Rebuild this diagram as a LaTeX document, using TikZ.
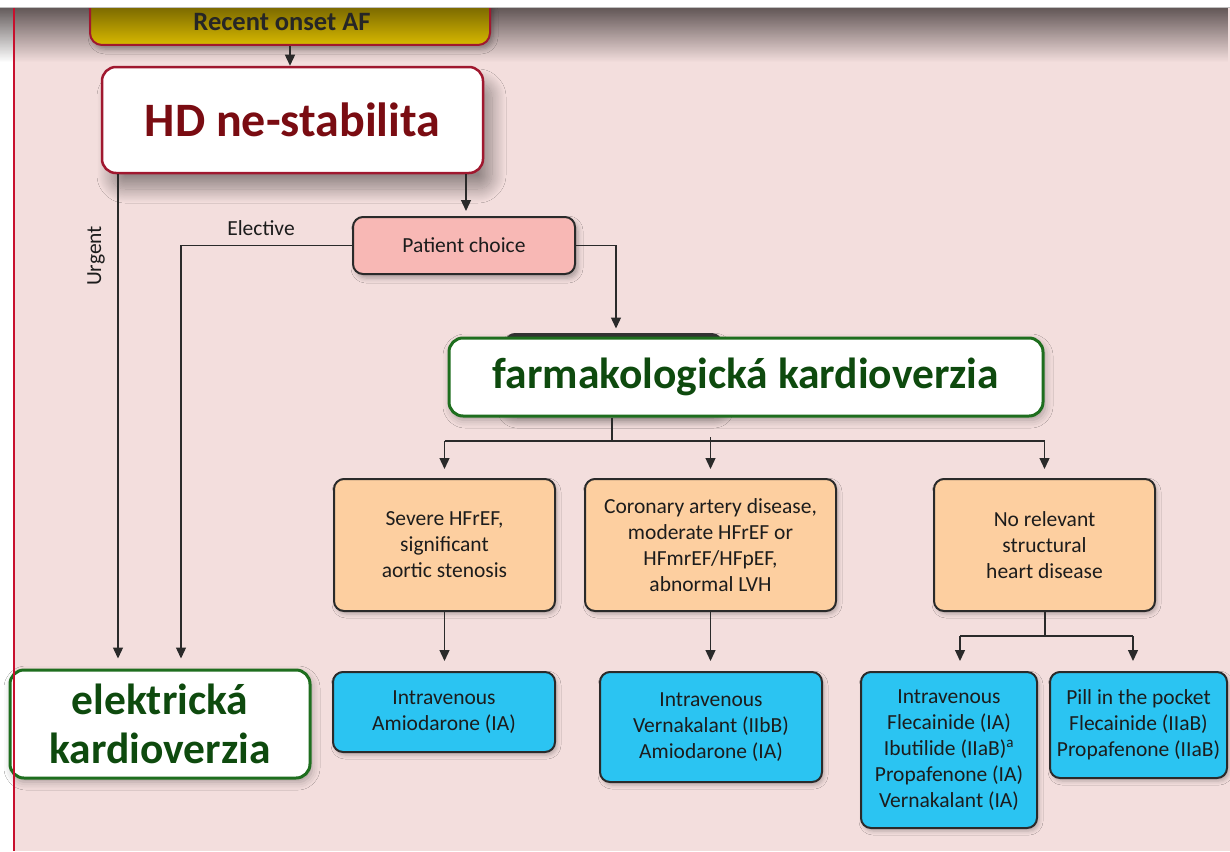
\documentclass[tikz,border=0pt]{standalone}
\usepackage{fontspec}
\setmainfont{Carlito}
\usetikzlibrary{arrows.meta,shadows.blur,fadings}
\definecolor{bgpink}{HTML}{F3DEDD}
\definecolor{redline}{HTML}{C8102E}
\definecolor{darkred}{HTML}{A0182F}
\definecolor{hdtext}{HTML}{7A0C12}
\definecolor{goldtop}{HTML}{5E5000}
\definecolor{goldmid}{HTML}{A58C00}
\definecolor{goldbot}{HTML}{D8B900}
\definecolor{patfill}{HTML}{F8B8B5}
\definecolor{orfill}{HTML}{FDCFA0}
\definecolor{blfill}{HTML}{2BC4F2}
\definecolor{grborder}{HTML}{1E6E1E}
\definecolor{grtext}{HTML}{0E4A0E}
\definecolor{linecol}{HTML}{2A2A2A}
\definecolor{txtcol}{HTML}{1C1C1C}
\definecolor{shadetop}{HTML}{4A4040}
\tikzfading[name=topfade, top color=transparent!0, middle color=transparent!65, bottom color=transparent!100]
\tikzset{
  smalltxt/.style={font=\fontsize{21.5}{26}\selectfont, text=txtcol, align=center, inner sep=0pt},
  basebox/.style={smalltxt, rounded corners=10pt, draw=linecol, line width=2pt},
  orbox/.style={basebox, fill=orfill, blur shadow={shadow xshift=2pt, shadow yshift=-3pt, shadow blur radius=4pt, shadow opacity=25}},
  blbox/.style={basebox, fill=blfill, blur shadow={shadow xshift=2pt, shadow yshift=-3pt, shadow blur radius=4pt, shadow opacity=25}},
  grbox/.style={rounded corners=14pt, draw=grborder, line width=3pt, fill=white, align=center, text=grtext,
     font=\bfseries\fontsize{43.5}{49}\selectfont, inner sep=0pt,
     blur shadow={shadow xshift=2pt, shadow yshift=-4pt, shadow blur radius=8pt, shadow opacity=30}},
  arr/.style={draw=linecol, line width=1.3pt, -{Triangle[width=10pt,length=11pt]}},
  plain/.style={draw=linecol, line width=1.3pt},
}
\begin{document}
\begin{tikzpicture}[x=1pt,y=-1pt]
\useasboundingbox (0,0) rectangle (1230,851);
% background
\fill[bgpink] (0,0) rectangle (1230,851);
\fill[white] (0,0) rectangle (14,851);
% top shadow overlay
\fill[shadetop, fill opacity=0.85, path fading=topfade] (0,8) rectangle (1230,62);

% coordinates for connectors
\coordinate (xu) at (118,0);
\coordinate (xe) at (181,0);
\coordinate (xp) at (466,0);
\coordinate (xf) at (616,0);
\coordinate (fs) at (612,441);
\coordinate (s3) at (1045,636);
\coordinate (xl) at (960,0);
\coordinate (xr) at (1133,0);

% top box
\node[rounded corners=12pt, draw=darkred, line width=2pt, top color=goldtop, middle color=goldmid, bottom color=goldbot,
      minimum width=400pt, minimum height=50pt, inner sep=0pt,
      blur shadow={shadow xshift=3pt, shadow yshift=-4pt, shadow blur radius=5pt, shadow opacity=30}] (recent) at (290,20) {};
\node[font=\bfseries\fontsize{26.5}{30}\selectfont, text=black!85, inner sep=0pt] (recenttxt) at (282,22) {Recent onset AF};

% HD box
\node[rounded corners=14pt, draw=darkred, line width=2.5pt, fill=white, minimum width=381pt, minimum height=106pt,
      inner sep=0pt, font=\bfseries\fontsize{48}{52}\selectfont, text=hdtext,
      blur shadow={shadow xshift=9pt, shadow yshift=-16pt, shadow blur radius=14pt, shadow blur steps=24, shadow opacity=40}] (hd) at (292.5,120) {HD ne-stabilita};

% patient choice
\node[basebox, fill=patfill, minimum width=222pt, minimum height=57pt,
      blur shadow={shadow xshift=3pt, shadow yshift=-4pt, shadow blur radius=5pt, shadow opacity=30}] (patient) at (464,245.5) {Patient choice};

% dark shape behind farm box
\fill[black!80, rounded corners=10pt, blur shadow={shadow xshift=2pt, shadow yshift=-10pt, shadow blur radius=10pt, shadow blur steps=20, shadow opacity=35}] (505,333) rectangle (722,408);
% farm box
\node[grbox, minimum width=594pt, minimum height=78pt] (farm) at (746,377) {farmakologická kardioverzia};

% elek box
\node[grbox, minimum width=300pt, minimum height=108pt] (elek) at (160,724) {elektrická\\kardioverzia};

% orange boxes
\node[orbox, minimum width=221pt, minimum height=132pt] (o1) at (444.5,545) {Severe HFrEF,\\significant\\aortic stenosis};
\node[orbox, minimum width=251pt, minimum height=132pt] (o2) at (710.5,545) {Coronary artery disease,\\moderate HFrEF or\\HFmrEF/HFpEF,\\abnormal LVH};
\node[orbox, minimum width=221pt, minimum height=132pt] (o3) at (1044.5,545) {No relevant\\structural\\heart disease};

% blue boxes
\node[blbox, minimum width=222pt, minimum height=80pt] (b1) at (444,712) {Intravenous\\Amiodarone (IA)};
\node[blbox, minimum width=222pt, minimum height=110pt] (b2) at (711,727) {Intravenous\\Vernakalant (IIbB)\\Amiodarone (IA)};
\node[blbox, minimum width=176pt, minimum height=156pt] (b3) at (949,750) {Intravenous\\Flecainide (IA)\\Ibutilide (IIaB)\textsuperscript{a}\\Propafenone (IA)\\Vernakalant (IA)};
\node[blbox, minimum width=177pt, minimum height=106pt] (b4) at (1138.5,725) {Pill in the pocket\\Flecainide (IIaB)\\Propafenone (IIaB)};

% labels
\node[smalltxt, rotate=90] (urg) at (96,256) {Urgent};
\node[smalltxt] (elec) at (261,228) {Elective};

% connectors
\draw[arr] (recent.south) -- (recent.south |- hd.north);
\draw[arr] (hd.south -| xu) -- ([yshift=10pt]elek.north -| xu);
\draw[arr] (patient.west) -| ([yshift=10pt]elek.north -| xe);
\draw[arr] (hd.south -| xp) -- ([yshift=5pt]patient.north -| xp);
\draw[arr] (patient.east) -| ([yshift=8pt]farm.north -| xf);

\draw[plain] (farm.south -| fs) -- (fs);
\draw[plain] (fs -| o1.north) -- (fs -| o3.north);
\draw[arr] (fs -| o1.north) -- ([yshift=9pt]o1.north);
\draw[arr] ([yshift=4pt]fs -| o2.north) -- ([yshift=9pt]o2.north);
\draw[arr] (fs -| o3.north) -- ([yshift=9pt]o3.north);

\draw[arr] (o1.south) -- ([yshift=10pt]b1.north -| o1.south);
\draw[arr] (o2.south) -- ([yshift=10pt]b2.north -| o2.south);
\draw[plain] (o3.south -| s3) -- (s3);
\draw[plain] (s3 -| xl) -- (s3 -| xr);
\draw[arr] (s3 -| xl) -- ([yshift=10pt]b3.north -| xl);
\draw[arr] (s3 -| xr) -- ([yshift=10pt]b4.north -| xr);

% top white strip
\fill[white] (0,0) rectangle (1230,8);
\draw[black!25, line width=1pt] (0,8) -- (1230,8);
% left red line
\draw[redline, line width=1.5pt] (14,8) -- (14,851);
\end{tikzpicture}
\end{document}
